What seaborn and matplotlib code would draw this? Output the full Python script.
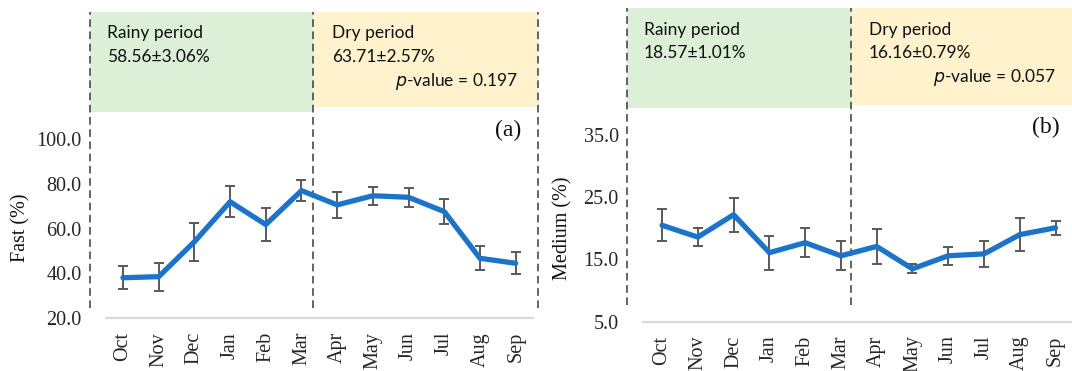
import numpy as np
import matplotlib
matplotlib.use("Agg")
import matplotlib.pyplot as plt
import seaborn as sns

months = ["Oct", "Nov", "Dec", "Jan", "Feb", "Mar", "Apr", "May", "Jun", "Jul", "Aug", "Sep"]
fast_mean = [38.0, 38.5, 54.1, 72.0, 61.8, 77.0, 70.6, 74.7, 74.0, 67.6, 46.7, 44.5]
fast_err = [5.2, 6.3, 8.5, 6.9, 7.2, 4.7, 5.8, 4.0, 4.2, 5.7, 5.3, 4.9]
medium_mean = [20.5, 18.6, 22.2, 16.1, 17.7, 15.6, 17.1, 13.5, 15.6, 15.9, 19.0, 20.1]
medium_err = [2.6, 1.4, 2.7, 2.75, 2.3, 2.35, 2.75, 0.7, 1.45, 2.1, 2.7, 1.15]
fast_ticks = [20.0, 40.0, 60.0, 80.0, 100.0]
medium_ticks = [5.0, 15.0, 25.0, 35.0]
rainy_stats = ["58.56±3.06%", "18.57±1.01%"]
dry_stats = ["63.71±2.57%", "16.16±0.79%"]
pvals = ["0.197", "0.057"]
panel_labels = ["(a)", "(b)"]
ylabels = ["Fast (%)", "Medium (%)"]

sns.set_style("white")
W, H = 1072, 371
fig = plt.figure(figsize=(W / 100, H / 100), dpi=100)

serif = ["Liberation Serif", "DejaVu Serif"]
sans = ["Lato", "DejaVu Sans"]
BLUE = "#1b74c9"
GREEN = "#dcefd7"
YELLOW = "#fff2cc"
TXT = "#111111"

def px_axes(l, r, t, b):
    return fig.add_axes([l / W, 1 - b / H, (r - l) / W, (b - t) / H])

specs = [
    dict(box=(90, 538, 12, 318), xlim=(-0.924, 11.625), ylim=(20, 156.9),
         mid=0.4978, gbot=0.673, ybot=0.6895, dbot=0.0327, gray=(0.0357, 0.9888),
         rx=0.038, dx=0.540, t1=33, t2=57, pxr=518, py=81, lxr=521, ly=130,
         right_dash=True, ylab=(21, 228)),
    dict(box=(627, 1072, 8, 321.7), xlim=(-0.98, 11.46), ylim=(5, 55.43),
         mid=0.5034, gbot=0.681, ybot=0.691, dbot=0.053, gray=(0.036, 1.0),
         rx=0.038, dx=0.544, t1=30, t2=53, pxr=1056, py=77, lxr=1060, ly=127,
         right_dash=False, ylab=(563, 228)),
]
means = [fast_mean, medium_mean]
errs = [fast_err, medium_err]
ticks = [fast_ticks, medium_ticks]

def fy(ypx):
    return 1 - ypx / H

for k, s in enumerate(specs):
    ax = px_axes(*s["box"])
    x = np.arange(len(months))
    ax.errorbar(x, means[k], yerr=errs[k], fmt="none", ecolor="#595959",
                elinewidth=1.4, capsize=3.8, capthick=1.4, zorder=3)
    sns.lineplot(x=x, y=means[k], ax=ax, color=BLUE, linewidth=3.8, zorder=4,
                 solid_capstyle="round")
    ax.set_xlim(*s["xlim"])
    ax.set_ylim(*s["ylim"])
    for sp in ax.spines.values():
        sp.set_visible(False)
    ax.set_xticks(x)
    ax.set_xticklabels(months, rotation=90, fontsize=14.5, family=serif)
    ax.set_yticks(ticks[k])
    ax.set_yticklabels([f"{t:.1f}" for t in ticks[k]], fontsize=14.5, family=serif)
    ax.tick_params(axis="x", length=0, pad=10)
    ax.tick_params(axis="y", length=0, pad=6)
    ax.set_xlabel("")
    ax.set_ylabel("")
    ax.grid(False)
    tr = ax.transAxes
    x0, x1 = s["xlim"]
    xm = x0 + s["mid"] * (x1 - x0)
    ax.axvspan(x0, xm, ymin=s["gbot"], ymax=1.0, color=GREEN, lw=0, zorder=0)
    ax.axvspan(xm, x1, ymin=s["ybot"], ymax=1.0, color=YELLOW, lw=0, zorder=0)
    dash_x = [0.0, s["mid"]] + ([1.0] if s["right_dash"] else [])
    for dx in dash_x:
        ax.plot([dx, dx], [s["dbot"], 1.0], transform=tr, color="#3a3a3a",
                lw=1.1, ls=(0, (5, 3)), clip_on=False, zorder=2)
    ax.plot(list(s["gray"]), [0, 0], transform=tr, color="#d9d9d9", lw=1.6,
            clip_on=False, zorder=1)
    # texts (figure pixel coordinates converted to fractions)
    l = s["box"][0]
    wpx = s["box"][1] - s["box"][0]
    rx = (l + s["rx"] * wpx) / W
    dxx = (l + s["dx"] * wpx) / W
    fig.text(rx, fy(s["t1"]), "Rainy period", ha="left", va="center",
             fontsize=12.5, family=sans, color=TXT)
    fig.text(rx, fy(s["t2"]), rainy_stats[k], ha="left", va="center",
             fontsize=12.5, family=sans, color=TXT)
    fig.text(dxx, fy(s["t1"]), "Dry period", ha="left", va="center",
             fontsize=12.5, family=sans, color=TXT)
    fig.text(dxx, fy(s["t2"]), dry_stats[k], ha="left", va="center",
             fontsize=12.5, family=sans, color=TXT)
    fig.text(s["pxr"] / W, fy(s["py"]), r"$\mathit{p}$" + "-value = " + pvals[k],
             ha="right", va="center", fontsize=12.5, family=sans, color=TXT)
    fig.text(s["lxr"] / W, fy(s["ly"]), panel_labels[k], ha="right", va="center",
             fontsize=17, family=serif, color=TXT)
    fig.text(s["ylab"][0] / W, fy(s["ylab"][1]), ylabels[k], rotation=90,
             ha="center", va="center", fontsize=14.5, family=serif, color=TXT)

fig.savefig("out.png", dpi=100)
